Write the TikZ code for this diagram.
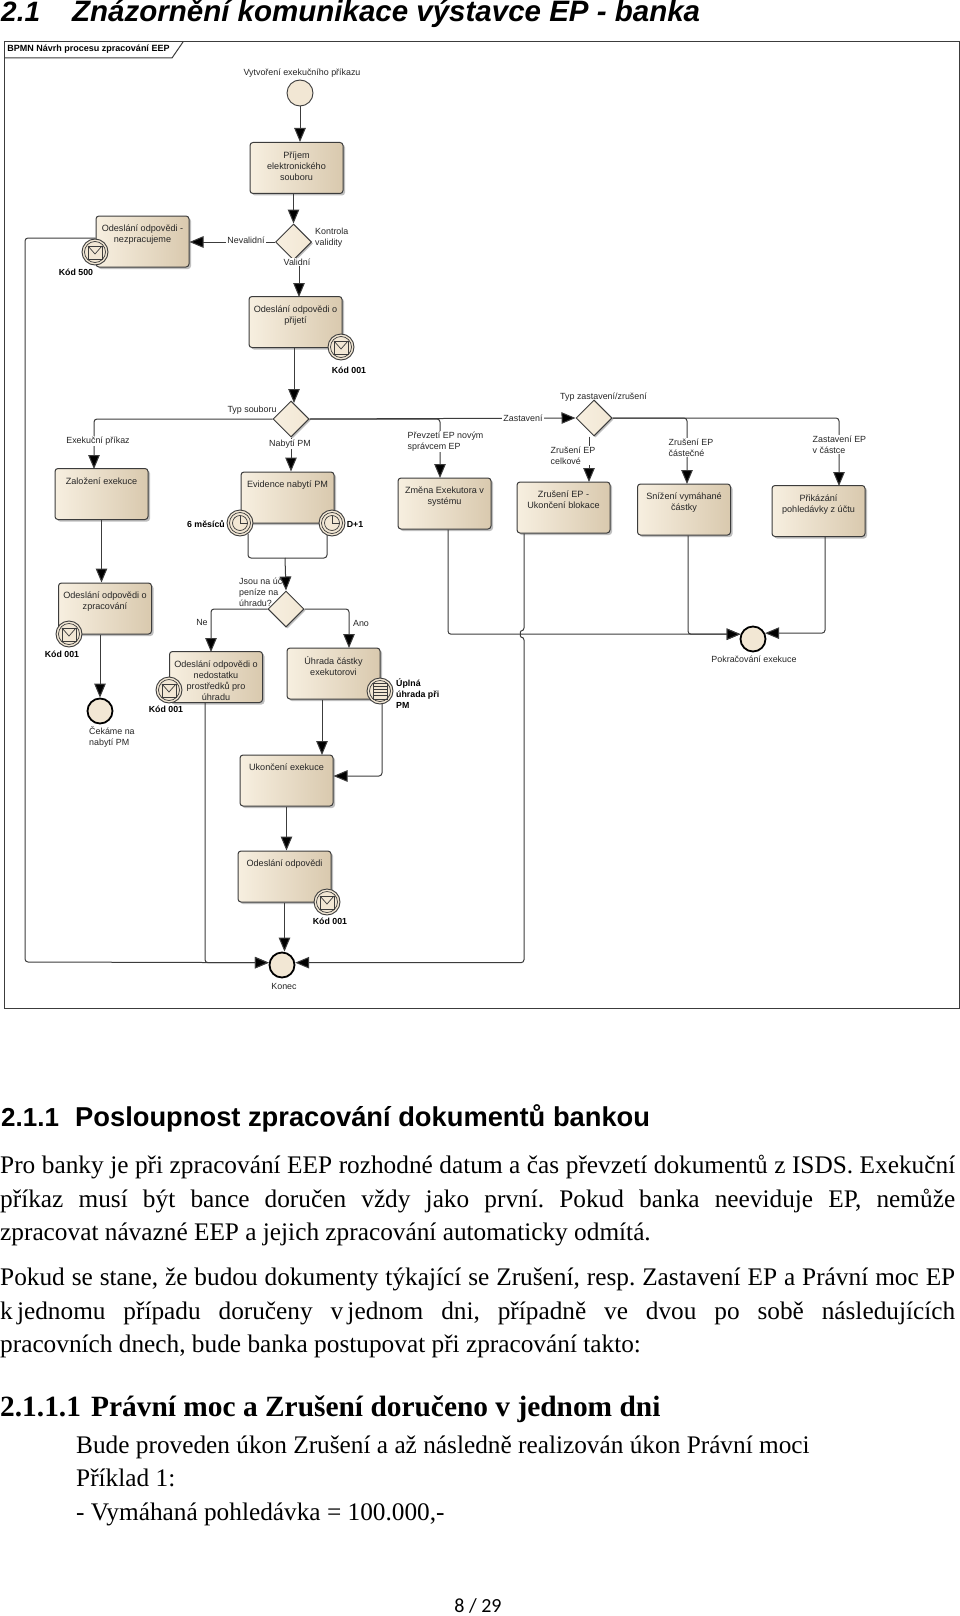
\documentclass[tikz,border=0pt]{standalone}
\usepackage{fontspec}
\setmainfont{Liberation Sans}
\newfontfamily\serifbody{Liberation Serif}
\newfontfamily\pagefoot{Carlito}
\usetikzlibrary{arrows.meta,shapes.geometric,shadows}
\definecolor{krem}{HTML}{F7EFE0}
\definecolor{kremmid}{HTML}{F2E7D4}
\definecolor{tmave}{HTML}{D9C9AE}
\definecolor{linka}{HTML}{3C3C3C}
\definecolor{popis}{HTML}{262626}
\newcommand{\boxtxt}[1]{\parbox[t][33pt][t]{90pt}{\centering #1}}
\tikzset{
    taskbox/.style={draw=linka,line width=1pt,rounded corners=3pt,left color=krem,middle color=kremmid,right color=tmave,
        drop shadow={shadow xshift=2pt,shadow yshift=-2pt,fill=black!50,opacity=.5},
        minimum width=93pt,minimum height=51pt,inner xsep=0pt,inner ysep=9pt,text=popis,font=\fontsize{9.1}{11}\selectfont},
    gatebox/.style={diamond,draw=linka,line width=1pt,left color=krem,right color=kremmid,aspect=1,inner sep=0pt,
        minimum width=36pt,minimum height=36pt,drop shadow={shadow xshift=1.5pt,shadow yshift=-1.5pt,fill=black!50,opacity=.5}},
    evbase/.style={circle,draw=linka,line width=.9pt,fill=kremmid,inner sep=0pt,minimum size=26pt},
    endbase/.style={evbase,draw=black,line width=1.8pt,minimum size=25pt},
    msgev/.style={evbase,path picture={
        \begin{scope}[shift=(path picture bounding box.center)]
            \draw[draw=linka,line width=.7pt] (0,0) circle (10.5pt);
            \draw[draw=linka,line width=.7pt] (-7,-6) rectangle (7,7);
            \draw[draw=linka,line width=.7pt] (-7,-6) -- (0,2) -- (7,-6);
        \end{scope}}},
    timeev/.style={evbase,path picture={
        \begin{scope}[shift=(path picture bounding box.center)]
            \draw[draw=linka,line width=.7pt] (0,0) circle (10.5pt);
            \draw[draw=linka,line width=.7pt] (0,0) circle (7.5pt);
            \draw[draw=linka,line width=.7pt] (0,-7.5) -- (0,0) -- (7.5,0);
        \end{scope}}},
    listev/.style={evbase,path picture={
        \begin{scope}[shift=(path picture bounding box.center)]
            \draw[draw=linka,line width=.7pt] (0,0) circle (10.5pt);
            \draw[draw=linka,line width=.7pt] (-7,-8) rectangle (7,8);
            \foreach \yy in {-5,-2,1,4}
                \draw[draw=linka,line width=.7pt] (-7,\yy) -- (7,\yy);
        \end{scope}}},
    conn/.style={draw=linka,line width=1pt,rounded corners=3pt},
    flow/.style={conn,-{Triangle[length=14pt,width=11.5pt,fill=black]}},
    lbl/.style={inner sep=0pt,text=popis,font=\fontsize{8.9}{11}\selectfont},
    lblw/.style={lbl,align=left,anchor=west},
    onln/.style={lbl,fill=white,inner xsep=1.5pt,inner ysep=1pt},
    onlnw/.style={onln,align=left,anchor=west},
    kod/.style={lbl,text=black,font=\fontsize{8.8}{11}\selectfont\bfseries},
    kodw/.style={kod,align=left,anchor=west},
    bodytxt/.style={inner sep=0pt,anchor=base west,font=\fontsize{25.3}{33.5}\selectfont\serifbody\frenchspacing},
    bodypar/.style={inner sep=0pt,anchor=north west,text width=955pt,align=justify,font=\fontsize{25.3}{33.5}\selectfont\serifbody\frenchspacing}
}
\begin{document}
\begin{tikzpicture}[x=1pt,y=-1pt]
            \useasboundingbox[fill=white] (0,0) rectangle (960,1616);
            \node[inner sep=0pt,anchor=base west,font=\fontsize{28}{30}\selectfont\bfseries\itshape] (nadpis1) at (1,22) {2.1};
            \node[inner sep=0pt,anchor=base west,font=\fontsize{29.5}{30}\selectfont\bfseries\itshape] (nadpis1b) at (72,22) {Znázornění komunikace výstavce EP - banka};

            \draw[draw=linka,line width=1pt] (4,42) rectangle (959,1008);
            \draw[draw=linka,line width=1pt] (4,58) -- (172,58) -- (183,42);
            \node[lbl,text=black,font=\fontsize{9}{10}\selectfont\bfseries] (rampopis) at (88.5,49.5) {BPMN Návrh procesu zpracování EEP};

            \node[lbl] (lstart) at (302,73) {Vytvoření exekučního příkazu};
            \node[lblw] (ljsou) at (239,592) {Jsou na úč\\peníze na\\úhradu?};
            \node[lbl] (ltypzast) at (603.5,397) {Typ zastavení/zrušení};

            \node[evbase] (start) at (300,93) {};
            \node[taskbox] (prijem) at (296.5,168) {\boxtxt{Příjem\\elektronického\\souboru}};
            \node[gatebox] (validita) at (293.5,242) {};
            \node[taskbox] (nezprac) at (142.5,241.5) {\boxtxt{Odeslání odpovědi -\\nezpracujeme}};
            \node[taskbox] (odpprij) at (295.5,322) {\boxtxt{Odeslání odpovědi o\\přijetí}};
            \node[gatebox] (typsoub) at (291,419) {};
            \node[gatebox] (typzast) at (594,418) {};
            \node[taskbox] (zalozeni) at (101.5,494) {\boxtxt{Založení exekuce}};
            \node[taskbox] (evidence) at (287.5,497.5) {\boxtxt{Evidence nabytí PM}};
            \node[taskbox] (zmena) at (444.5,503.5) {\boxtxt{Změna Exekutora v\\systému}};
            \node[taskbox] (zruseni) at (563.5,507.5) {\boxtxt{Zrušení EP -\\Ukončení blokace}};
            \node[taskbox] (snizeni) at (684,509.5) {\boxtxt{Snížení vymáhané\\částky}};
            \node[taskbox] (prikaz) at (818.5,511) {\boxtxt{Přikázání\\pohledávky z účtu}};
            \node[taskbox] (zprac) at (105,608.5) {\boxtxt{Odeslání odpovědi o\\zpracování}};
            \node[gatebox] (penize) at (286,609) {};
            \node[taskbox] (nedost) at (216,677) {\boxtxt{Odeslání odpovědi o\\nedostatku\\prostředků pro\\úhradu}};
            \node[taskbox] (uhrada) at (333.5,673.5) {\boxtxt{Úhrada částky\\exekutorovi}};
            \node[taskbox] (ukonc) at (286.5,780.5) {\boxtxt{Ukončení exekuce}};
            \node[taskbox] (oodp) at (284.5,876.5) {\boxtxt{Odeslání odpovědi}};
            \node[endbase] (cekame) at (100,711) {};
            \node[endbase] (pokrac) at (753,639) {};
            \node[endbase] (konec) at (282,965) {};

            \coordinate (slouc) at (285,558);
            \coordinate (skok) at (524,634);
            \draw[flow] (start.south) -- (start.south |- prijem.north);
            \draw[flow] (prijem.south -| validita) -- (validita.north);
            \draw[flow] (validita.west) -- (validita.west -| nezprac.east);
            \draw[flow] (validita.south -| 299,0) -- (299,297);
            \draw[flow] (odpprij.south -| 294,0) -- (294,403);
            \draw[flow] (typsoub.west) -| (94,469);
            \draw[flow] (typsoub.south) -- (typsoub.south |- evidence.north);
            \draw[flow] (typsoub.east) -- (typzast.west);
            \draw[flow] (typsoub.east) -| (440,478);
            \draw[flow] (typzast.south -| 589,0) -- (589,482);
            \draw[flow] (typzast.east) -| (687,484);
            \draw[flow] (typzast.east) -| (839,486);
            \draw[flow] (zalozeni.south) -- (zalozeni.south |- zprac.north);
            \draw[flow] (zprac.south -| cekame) -- (cekame.north);
            \draw[conn] (evidence.south -| 248,0) ++(0,10) |- (slouc);
            \draw[conn] (evidence.south -| 327,0) ++(0,10) |- (slouc);
            \draw[flow] (slouc) -- (penize.north);
            \draw[flow] (penize.west) -| (211,652);
            \draw[flow] (penize.east) -| (349,648);
            \draw[flow] (uhrada.south -| 322,0) -- (322,755);
            \draw[flow] (382,704) |- (ukonc.east |- 0,776);
            \draw[flow] (ukonc.south) -- (ukonc.south |- oodp.north);
            \draw[flow] (oodp.south) -- (oodp.south |- konec.north);
            \draw[flow] (nezprac.west |- 0,238) -| (25,962) -- (konec.170);
            \draw[flow] (nedost.south -| 205,0) |- (konec.170);
            \draw[flow] (zruseni.south -| skok) -- ([yshift=3pt]skok) .. controls ([xshift=-4pt,yshift=3pt]skok) and ([xshift=-4pt,yshift=-3pt]skok) .. ([yshift=-3pt]skok) -- (skok |- konec.10) -- (konec.10);
            \draw[flow] (zmena.south -| 448,0) |- (pokrac.159);
            \draw[flow] (snizeni.south -| 688,0) |- (pokrac.159);
            \draw[flow] (prikaz.south -| 825,0) |- (pokrac.26);

            \node[msgev] (ev500) at (95,252) {};
            \node[msgev] (ev001a) at (341,347) {};
            \node[msgev] (ev001b) at (69,634) {};
            \node[msgev] (ev001c) at (169,690) {};
            \node[msgev] (ev001d) at (327,902) {};
            \node[timeev] (cas1) at (240,523) {};
            \node[timeev] (cas2) at (332,523) {};
            \node[listev] (evplna) at (380,691) {};

            \node[lblw] (lkontrola) at (315,237.5) {Kontrola\\validity};
            \node[onln] (lneval) at (246,240) {Nevalidní};
            \node[onln] (lvalid) at (297,262) {Validní};
            \node[lbl] (ltypsoub) at (252,410) {Typ souboru};
            \node[onln] (lexek) at (98,441) {Exekuční příkaz};
            \node[onln] (lnabyti) at (290,444) {Nabytí PM};
            \node[onln] (lzast) at (523,418) {Zastavení};
            \node[onlnw] (lprevzeti) at (406,441.5) {Převzetí EP novým\\správcem EP};
            \node[onlnw] (lzruscel) at (549,455.5) {Zrušení EP\\celkové};
            \node[onlnw] (lzruscast) at (667,447.5) {Zrušení EP\\částečné};
            \node[onlnw] (lzastcast) at (811,444.5) {Zastavení EP\\v částce};
            \node[lbl] (lne) at (202,622) {Ne};
            \node[lbl] (lano) at (361,623) {Ano};
            \node[lbl] (lpokrac) at (754,659) {Pokračování exekuce};
            \node[lblw] (lcekame) at (89,737) {Čekáme na\\nabytí PM};
            \node[lbl] (lkonec) at (284,986) {Konec};
            \node[kod] (k500) at (76,272) {Kód 500};
            \node[kod] (k001a) at (349,370) {Kód 001};
            \node[kod] (k001b) at (62,654) {Kód 001};
            \node[kod] (k001c) at (166,709) {Kód 001};
            \node[kod] (k001d) at (330,921) {Kód 001};
            \node[kod] (k6m) at (206,524) {6 měsíců};
            \node[kod] (kd1) at (355,524) {D+1};
            \node[kodw] (kplna) at (396,693.5) {Úplná\\úhrada při\\PM};

            \node[inner sep=0pt,anchor=base west,font=\fontsize{26}{30}\selectfont\bfseries] (nadpis2) at (1,1126) {2.1.1};
            \node[inner sep=0pt,anchor=base west,font=\fontsize{27.3}{30}\selectfont\bfseries] (nadpis2b) at (75,1126) {Posloupnost zpracování dokumentů bankou};
            \node[bodypar] (odst1) at (0,1155) {Pro banky je při zpracování EEP rozhodné datum a čas převzetí dokumentů z ISDS. Exekuční\linebreak příkaz musí být bance doručen vždy jako první. Pokud banka neeviduje EP, nemůže\linebreak zpracovat návazné EEP a jejich zpracování automaticky odmítá.};
            \node[bodypar] (odst2) at (0,1268) {Pokud se stane, že budou dokumenty týkající se Zrušení, resp. Zastavení EP a Právní moc EP\linebreak k\,jednomu případu doručeny v\,jednom dni, případně ve dvou po sobě následujících\linebreak pracovních dnech, bude banka postupovat při zpracování takto:};
            \node[inner sep=0pt,anchor=base west,font=\fontsize{29.4}{30}\selectfont\serifbody\bfseries] (nadpis3) at (0,1416) {2.1.1.1};
            \node[inner sep=0pt,anchor=base west,font=\fontsize{29.4}{30}\selectfont\serifbody\bfseries] (nadpis3b) at (91,1416) {Právní moc a Zrušení doručeno v jednom dni};
            \node[bodytxt] (radek1) at (76,1453) {Bude proveden úkon Zrušení a až následně realizován úkon Právní moci};
            \node[bodytxt] (radek2) at (76,1486) {Příklad 1:};
            \node[bodytxt] (radek3) at (76,1520) {- Vymáhaná pohledávka = 100.000,-};
            \node[inner sep=0pt,font=\fontsize{20}{24}\selectfont\pagefoot] (strana) at (478,1606) {8 / 29};
\end{tikzpicture}
\end{document}
